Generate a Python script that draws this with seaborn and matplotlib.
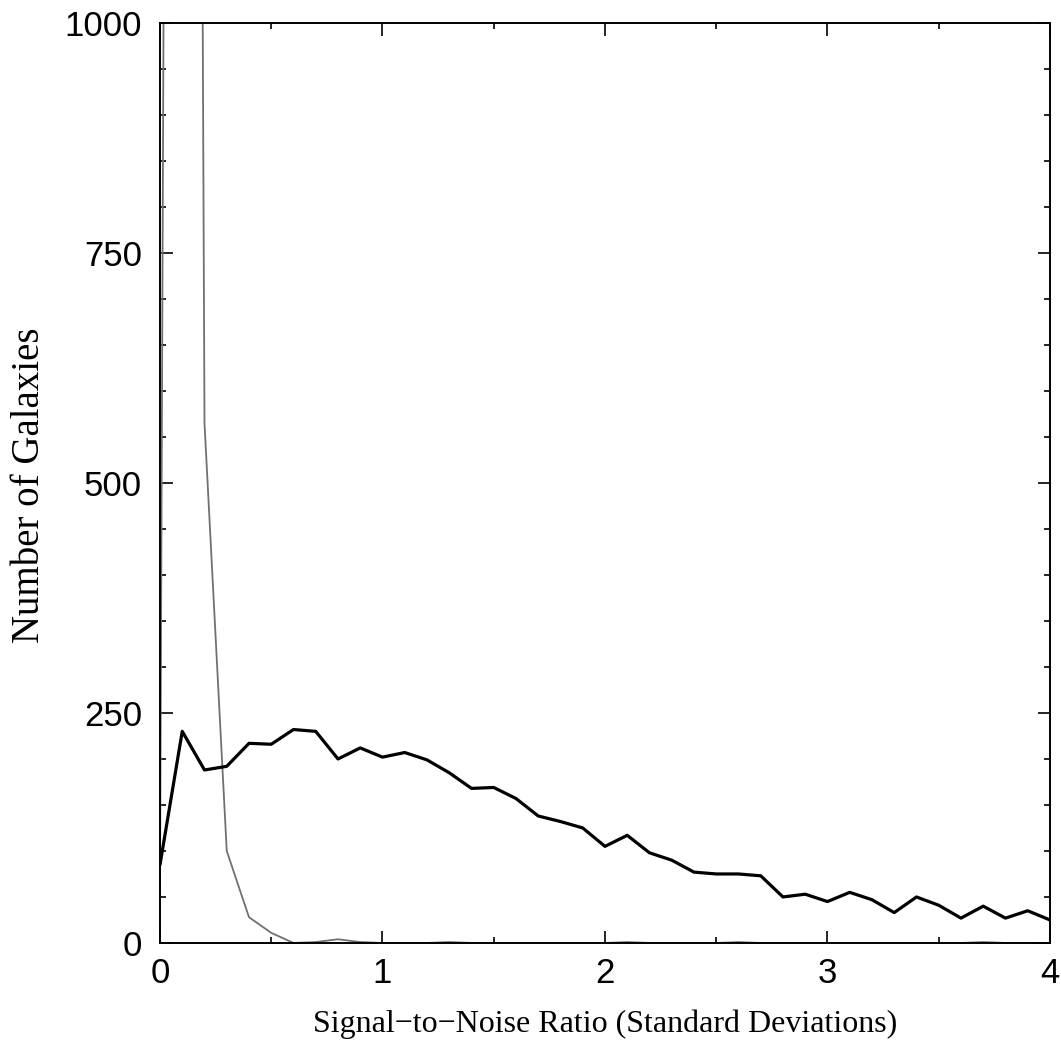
import numpy as np
import pandas as pd
import matplotlib
matplotlib.use("Agg")
import matplotlib.pyplot as plt
import seaborn as sns
from matplotlib.ticker import MultipleLocator

# ---- data ----
snr = [round(0.1 * i, 1) for i in range(41)]
galaxies = [85, 230, 188, 192, 217, 216, 232, 230, 200, 212, 202, 207, 199, 185,
            168, 169, 157, 138, 132, 125, 105, 117, 98, 90, 77, 75, 75, 73, 50,
            53, 45, 55, 47, 33, 50, 41, 27, 40, 27, 35, 25]
noise = [60, 6000, 565, 100, 28, 11, 0, 1, 4, 1, 0, 0, 0, 1, 0, 0, 0, 0, 0, 0,
         0, 1, 0, 0, 0, 0, 1, 0, 0, 0, 0, 0, 0, 0, 0, 0, 0, 1, 0, 0, 0]
x_ticks = [0, 1, 2, 3, 4]
y_ticks = [0, 250, 500, 750, 1000]

df_gal = pd.DataFrame({"snr": snr, "count": galaxies})
df_noise = pd.DataFrame({"snr": snr, "count": noise})

sns.set_theme(style="ticks")
plt.rcParams["font.family"] = ["Liberation Sans", "DejaVu Sans"]

fig = plt.figure(figsize=(10.61, 10.53), dpi=100)
ax = fig.add_axes([0.1508, 0.1045, 0.8388, 0.8737])

sns.lineplot(data=df_noise, x="snr", y="count", ax=ax, color="#707070",
             linewidth=1.3, estimator=None)
sns.lineplot(data=df_gal, x="snr", y="count", ax=ax, color="black",
             linewidth=2.3, estimator=None)

ax.set_xlim(0, 4)
ax.set_ylim(0, 1000)
ax.set_xticks(x_ticks)
ax.set_yticks(y_ticks)
ax.xaxis.set_minor_locator(MultipleLocator(0.5))
ax.yaxis.set_minor_locator(MultipleLocator(50))
ax.set_xticklabels([str(v) for v in x_ticks])
ax.set_yticklabels([str(v) for v in y_ticks])

for s in ax.spines.values():
    s.set_visible(True)
    s.set_linewidth(1.4)
    s.set_color("black")

ax.tick_params(which="both", direction="in", top=True, right=True,
               color="black", width=1.2)
ax.tick_params(which="major", length=9, labelsize=25, pad=13)
ax.tick_params(which="minor", length=4.5)
ax.tick_params(axis="x", which="major", pad=10)
for lab in ax.get_xticklabels() + ax.get_yticklabels():
    lab.set_color("black")

ax.set_xlabel("Signal\u2212to\u2212Noise Ratio (Standard Deviations)",
              family=["Liberation Serif", "DejaVu Serif"], fontsize=23,
              color="black", labelpad=14)
ax.set_ylabel("Number of Galaxies", family=["Liberation Serif", "DejaVu Serif"],
              fontsize=28, color="black")
ax.yaxis.set_label_coords(-0.126, 0.497)

fig.savefig("out.png", dpi=100, facecolor="white")
